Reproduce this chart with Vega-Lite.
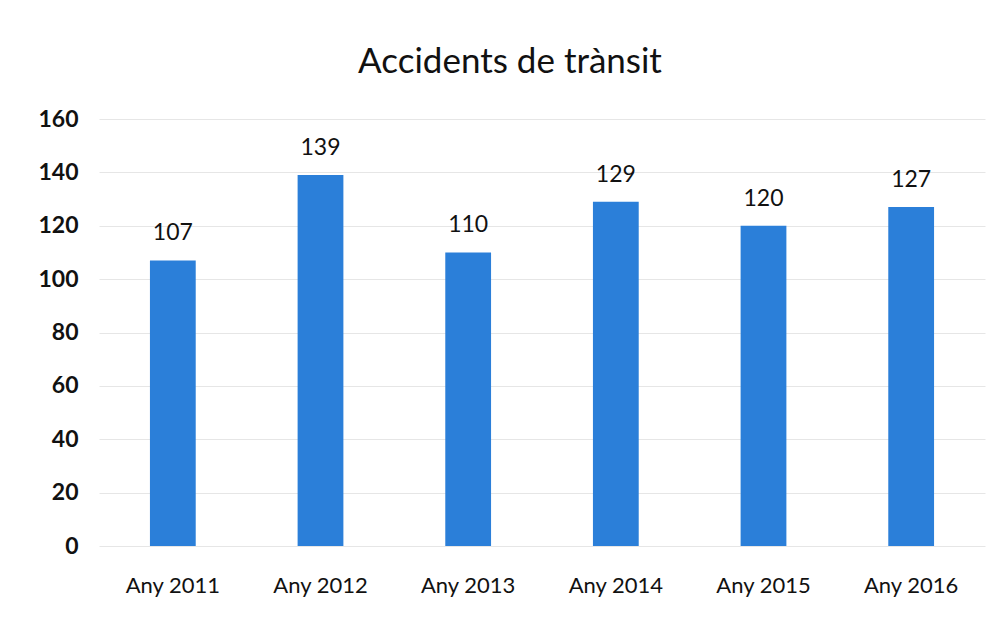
{
  "$schema": "https://vega.github.io/schema/vega-lite/v6.json",
  "autosize": {"type": "none"},
  "width": 886,
  "height": 427,
  "padding": {"left": 99, "top": 119, "right": 21, "bottom": 81},
  "background": "white",
  "config": {"view": {"stroke": null}, "font": "Lato"},
  "title": {"text": "Accidents de trànsit", "fontSize": 35, "font": "Lato", "fontWeight": "normal", "color": "#111111", "anchor": "middle", "dx": -32, "offset": 28},
  "data": {"values": [
    {"year": "Any 2011", "value": 107},
    {"year": "Any 2012", "value": 139},
    {"year": "Any 2013", "value": 110},
    {"year": "Any 2014", "value": 129},
    {"year": "Any 2015", "value": 120},
    {"year": "Any 2016", "value": 127}
  ]},
  "encoding": {
    "x": {"field": "year", "type": "nominal", "sort": null, "title": null,
      "scale": {"paddingInner": 0.69, "paddingOuter": 0.345},
      "axis": {"labelAngle": 0, "labelFontSize": 22, "labelColor": "#111111", "labelPadding": 29, "ticks": false, "domain": false, "grid": false, "labelFont": "Lato"}},
    "y": {"field": "value", "type": "quantitative", "title": null,
      "scale": {"domain": [0, 160], "nice": false},
      "axis": {"values": [0, 20, 40, 60, 80, 100, 120, 140, 160], "labelFontSize": 23, "labelFontWeight": "bold", "labelColor": "#111111", "labelPadding": 21, "ticks": false, "domain": false, "gridColor": "#e6e6e6", "gridWidth": 1, "labelFont": "Lato"}}
  },
  "layer": [
    {"mark": {"type": "bar", "color": "#2b7fd9"}},
    {"mark": {"type": "text", "dy": -27, "fontSize": 23, "color": "#111111", "font": "Lato"},
     "encoding": {"text": {"field": "value", "type": "quantitative"}}}
  ]
}
